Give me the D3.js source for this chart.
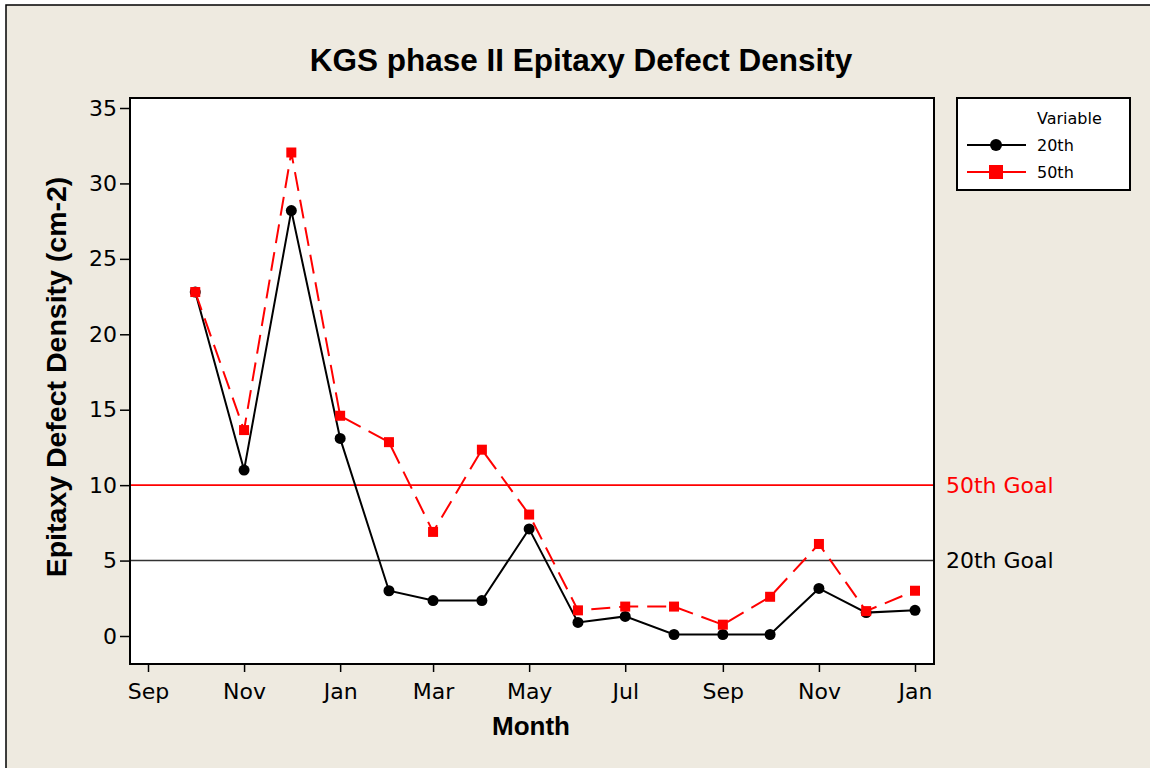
<!DOCTYPE html>
<html>
<head>
<meta charset="utf-8">
<script src="https://cdn.jsdelivr.net/npm/d3@7"></script>
<style>
  html, body { margin: 0; padding: 0; background: #ffffff; }
  svg { display: block; }
</style>
</head>
<body>
<svg id="chart" width="1150" height="768"></svg>
<script>
// ---------- data ----------
const months = ["2004-10-01","2004-11-01","2004-12-01","2005-01-01","2005-02-01","2005-03-01",
                "2005-04-01","2005-05-01","2005-06-01","2005-07-01","2005-08-01","2005-09-01",
                "2005-10-01","2005-11-01","2005-12-01","2006-01-01"];
const p20 = [22.8, 11.0, 28.2, 13.1, 3.0, 2.35, 2.35, 7.1, 0.9, 1.3, 0.1, 0.1, 0.1, 3.15, 1.55, 1.7];
const p50 = [22.8, 13.65, 32.05, 14.6, 12.85, 6.9, 12.35, 8.05, 1.7, 1.95, 1.95, 0.75, 2.6, 6.1, 1.65, 3.0];
const goals = [{label: "50th Goal", value: 10, color: "#ff0000"},
               {label: "20th Goal", value: 5, color: "#333333"}];
const yTicks = [0, 5, 10, 15, 20, 25, 30, 35];
const xTickDates = ["2004-09-01","2004-11-01","2005-01-01","2005-03-01","2005-05-01",
                    "2005-07-01","2005-09-01","2005-11-01","2006-01-01"];
const title = "KGS phase II Epitaxy Defect Density";
const xTitle = "Month";
const yTitle = "Epitaxy Defect Density (cm-2)";
const legendTitle = "Variable";
const seriesNames = ["20th", "50th"];

// ---------- layout ----------
const W = 1150, H = 768;
const plot = {left: 130, right: 934, top: 98, bottom: 664};
const parse = d3.utcParse("%Y-%m-%d");
const fontReg = "'DejaVu Sans', Verdana, sans-serif";
const fontBold = "'Liberation Sans', Arial, sans-serif";

const svg = d3.select("#chart");

// background & outer frame (extends past the right and bottom edges)
svg.append("rect").attr("x", 6).attr("y", 5).attr("width", W + 50).attr("height", H + 50)
  .attr("fill", "#eeeae0").attr("stroke", "#000").attr("stroke-width", 1.5);

// plot area
svg.append("rect").attr("x", plot.left).attr("y", plot.top)
  .attr("width", plot.right - plot.left).attr("height", plot.bottom - plot.top)
  .attr("fill", "#ffffff");

const x = d3.scaleUtc()
  .domain([parse(xTickDates[0]), parse(xTickDates[xTickDates.length - 1])])
  .range([148, 915]);
const y = d3.scaleLinear().domain([0, 35]).range([636, 108]);

// goal lines
goals.forEach(g => {
  svg.append("line")
    .attr("x1", plot.left).attr("x2", plot.right)
    .attr("y1", y(g.value)).attr("y2", y(g.value))
    .attr("stroke", g.color).attr("stroke-width", 1.6);
  svg.append("text")
    .attr("x", plot.right + 12).attr("y", y(g.value))
    .attr("dy", "0.36em")
    .attr("font-family", fontReg).attr("font-size", 22)
    .attr("fill", g.color === "#333333" ? "#000" : g.color)
    .text(g.label);
});

// axes
const yAxis = svg.append("g").attr("transform", `translate(${plot.left},0)`)
  .call(d3.axisLeft(y).tickValues(yTicks).tickSize(10).tickPadding(3));
yAxis.select(".domain").remove();
yAxis.selectAll("line").attr("stroke", "#000").attr("stroke-width", 1.5);
yAxis.selectAll("text").attr("font-family", fontReg).attr("font-size", 22).attr("fill", "#000");

const xAxis = svg.append("g").attr("transform", `translate(0,${plot.bottom})`)
  .call(d3.axisBottom(x).tickValues(xTickDates.map(parse))
        .tickFormat(d3.utcFormat("%b")).tickSize(8).tickPadding(11));
xAxis.select(".domain").remove();
xAxis.selectAll("line").attr("stroke", "#000").attr("stroke-width", 1.5);
xAxis.selectAll("text").attr("font-family", fontReg).attr("font-size", 22).attr("fill", "#000");

// plot frame
svg.append("rect").attr("x", plot.left).attr("y", plot.top)
  .attr("width", plot.right - plot.left).attr("height", plot.bottom - plot.top)
  .attr("fill", "none").attr("stroke", "#000").attr("stroke-width", 2);

// series
const pts20 = months.map((m, i) => ({d: parse(m), v: p20[i]}));
const pts50 = months.map((m, i) => ({d: parse(m), v: p50[i]}));
const line = d3.line().x(p => x(p.d)).y(p => y(p.v));

svg.append("path").datum(pts20).attr("d", line)
  .attr("fill", "none").attr("stroke", "#000").attr("stroke-width", 2);
svg.append("g").selectAll("circle").data(pts20).join("circle")
  .attr("cx", p => x(p.d)).attr("cy", p => y(p.v)).attr("r", 5.5).attr("fill", "#000");

svg.append("path").datum(pts50).attr("d", line)
  .attr("fill", "none").attr("stroke", "#ff0000").attr("stroke-width", 2)
  .attr("stroke-dasharray", "19,9");
const sq = 10;
svg.append("g").selectAll("rect").data(pts50).join("rect")
  .attr("x", p => x(p.d) - sq / 2).attr("y", p => y(p.v) - sq / 2)
  .attr("width", sq).attr("height", sq).attr("fill", "#ff0000");

// titles
svg.append("text").attr("x", 581).attr("y", 71).attr("text-anchor", "middle")
  .attr("font-family", fontBold).attr("font-weight", "bold").attr("font-size", 31.5)
  .text(title);
svg.append("text").attr("x", 531).attr("y", 735).attr("text-anchor", "middle")
  .attr("font-family", fontBold).attr("font-weight", "bold").attr("font-size", 26)
  .text(xTitle);
svg.append("text").attr("transform", "translate(66,377) rotate(-90)")
  .attr("text-anchor", "middle")
  .attr("font-family", fontBold).attr("font-weight", "bold").attr("font-size", 28.5)
  .text(yTitle);

// legend
const lg = svg.append("g");
lg.append("rect").attr("x", 957).attr("y", 98).attr("width", 173).attr("height", 92)
  .attr("fill", "#fff").attr("stroke", "#000").attr("stroke-width", 2);
lg.append("text").attr("x", 1037).attr("y", 124)
  .attr("font-family", fontReg).attr("font-size", 16).text(legendTitle);
const rows = [{name: seriesNames[0], color: "#000", shape: "circle", y: 145},
              {name: seriesNames[1], color: "#ff0000", shape: "square", y: 172}];
rows.forEach(r => {
  lg.append("line").attr("x1", 967).attr("x2", 1026).attr("y1", r.y).attr("y2", r.y)
    .attr("stroke", r.color).attr("stroke-width", 2);
  if (r.shape === "circle") {
    lg.append("circle").attr("cx", 996).attr("cy", r.y).attr("r", 6).attr("fill", r.color);
  } else {
    lg.append("rect").attr("x", 989).attr("y", r.y - 7).attr("width", 14).attr("height", 14)
      .attr("fill", r.color);
  }
  lg.append("text").attr("x", 1037).attr("y", r.y).attr("dy", "0.36em")
    .attr("font-family", fontReg).attr("font-size", 16).text(r.name);
});
</script>
</body>
</html>
